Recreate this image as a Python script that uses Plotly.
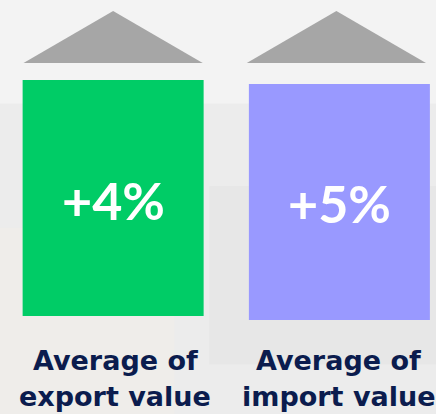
import plotly.graph_objects as go

# ---- data ----
categories = ["export", "import"]
change_labels = ["+4%", "+5%"]
label_line1 = ["Average of", "Average of"]
label_line2 = ["export value", "import value"]
box_top = [80, 84]
box_bottom = [316, 320]
box_colors = ["#00CC66", "#9999FF"]

NAVY = "#0B1C4E"
GRAY = "#A6A6A6"

fig = go.Figure()

# background tint bands (faded photo look)
bg_shapes = [
    dict(type="rect", xref="paper", yref="paper", x0=0, x1=1, y0=0.75, y1=1,
         fillcolor="#F7F7F7", line_width=0, layer="below", opacity=0.7),
    dict(type="rect", xref="paper", yref="paper", x0=0, x1=0.4, y0=0, y1=0.45,
         fillcolor="#F2EEE9", line_width=0, layer="below", opacity=0.6),
    dict(type="rect", xref="paper", yref="paper", x0=0.48, x1=1, y0=0.12, y1=0.55,
         fillcolor="#E2E2E2", line_width=0, layer="below", opacity=0.5),
]

# boxes as bars (base = top, length = bottom-top on a reversed axis)
fig.add_trace(go.Bar(
    x=categories,
    y=[b - t for t, b in zip(box_top, box_bottom)],
    base=box_top,
    marker=dict(color=box_colors, line_width=0),
    width=0.8,
    hoverinfo="skip",
    showlegend=False,
))

shapes = list(bg_shapes)
# triangles above each box
tri_centers = [0, 0.9867]
for c in tri_centers:
    hw = 0.396
    shapes.append(dict(
        type="path",
        path=f"M {c-hw},63 L {c},11 L {c+hw},63 Z",
        xref="x", yref="y",
        fillcolor=GRAY, line_width=0,
    ))

annotations = []
pct_y = [200, 203]
pct_x = [0.002, 1.0]
for i, txt in enumerate(change_labels):
    annotations.append(dict(
        x=pct_x[i], y=pct_y[i], xref="x", yref="y", text=f"<b>{txt}</b>",
        showarrow=False, xanchor="center", yanchor="middle",
        font=dict(family="Lato", size=52, color="white"),
    ))

lab_x = [0.01, 0.997]
for i in range(len(categories)):
    annotations.append(dict(
        x=lab_x[i], y=360, xref="x", yref="y", text=f"<b>{label_line1[i]}</b>",
        showarrow=False, xanchor="center", yanchor="middle",
        font=dict(family="DejaVu Sans", size=27, color=NAVY),
    ))
    annotations.append(dict(
        x=lab_x[i], y=396, xref="x", yref="y", text=f"<b>{label_line2[i]}</b>",
        showarrow=False, xanchor="center", yanchor="middle",
        font=dict(family="DejaVu Sans", size=27, color=NAVY),
    ))

fig.update_layout(
    width=436, height=414,
    margin=dict(l=0, r=0, t=0, b=0),
    paper_bgcolor="#ECECEC",
    plot_bgcolor="rgba(0,0,0,0)",
    xaxis=dict(range=[-0.5, 1.427], visible=False, fixedrange=True),
    yaxis=dict(range=[414, 0], visible=False, fixedrange=True),
    shapes=shapes,
    annotations=annotations,
    bargap=0.2,
)

fig.write_html(
    "out.html",
    config={"displayModeBar": False},
    post_script="document.body.style.margin='0';document.body.style.overflow='hidden';",
)
